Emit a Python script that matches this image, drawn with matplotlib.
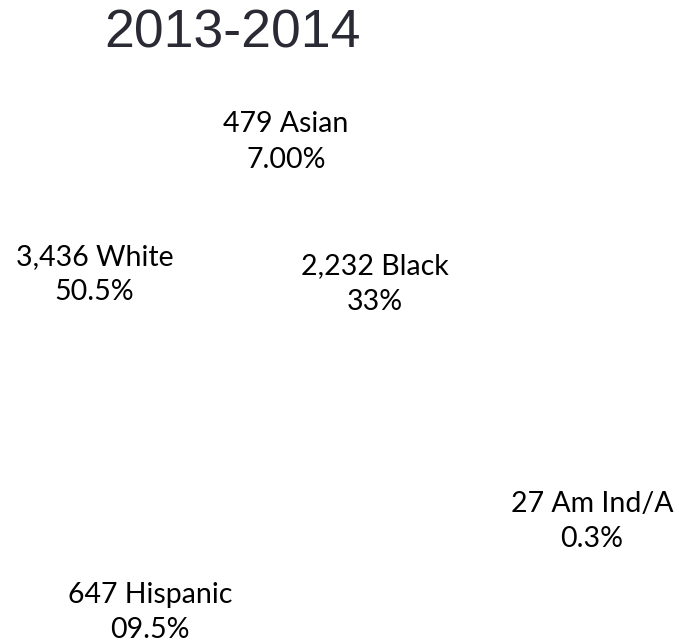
import matplotlib
matplotlib.use("Agg")
import matplotlib.pyplot as plt

# data
groups = ["Asian", "White", "Black", "Am Ind/A", "Hispanic"]
counts = [479, 3436, 2232, 27, 647]
pct_labels = ["7.00%", "50.5%", "33%", "0.3%", "09.5%"]

# first-line baseline of each label, figure fraction (layout only)
label_pos = [(0.421, 0.795), (0.139, 0.5885), (0.552, 0.5745), (0.872, 0.205), (0.221, 0.0637)]
line_gap = 0.0551

fig = plt.figure(figsize=(6.79, 6.44), dpi=100)
ax = fig.add_axes([0.15, 0.05, 0.7, 0.8])
# wedges are white in the original, so they don't show
ax.pie(counts, colors=["white"] * len(counts), startangle=90, counterclock=False)
ax.set_aspect("equal")

fig.text(0.342, 0.9255, "2013-2014", ha="center", va="baseline",
         fontsize=38.5, family="Liberation Sans", color="#2a2a35")

for g, c, p, (x, y) in zip(groups, counts, pct_labels, label_pos):
    fig.text(x, y, f"{c:,} {g}", ha="center", va="baseline",
             fontsize=20.5, family="Lato", color="black")
    fig.text(x, y - line_gap, p, ha="center", va="baseline",
             fontsize=20.5, family="Lato", color="black")

fig.savefig("out.png", dpi=100, facecolor="white")
